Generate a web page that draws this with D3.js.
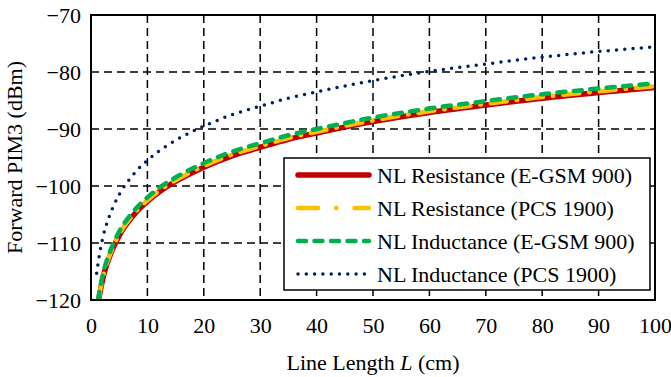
<!DOCTYPE html>
<html><head><meta charset="utf-8">
<script src="https://cdn.jsdelivr.net/npm/d3@7"></script>
<style>body{margin:0;background:#fff}svg{display:block}text{font-family:"Liberation Serif","Times New Roman",serif;fill:#000}</style>
</head><body>
<script>
const xTicks = [0,10,20,30,40,50,60,70,80,90,100];
const yTicks = [-120,-110,-100,-90,-80,-70];
const seriesNames = ["NL Resistance (E-GSM 900)","NL Resistance (PCS 1900)","NL Inductance (E-GSM 900)","NL Inductance (PCS 1900)"];
const lenRes = [1.35,1.5,2,2.5,3,4,5,6,7,8,10,12,15,20,25,30,35,40,50,60,70,80,90,100];
const resGSM = [-120,-119.2,-116.7,-114.7,-113.2,-110.7,-108.7,-107.1,-105.8,-104.6,-102.7,-101.1,-99.2,-96.7,-94.7,-93.2,-91.8,-90.7,-88.7,-87.1,-85.8,-84.6,-83.6,-82.7];
const resPCS = [-120,-119.0,-116.5,-114.5,-113.0,-110.5,-108.5,-106.9,-105.6,-104.4,-102.5,-100.9,-99.0,-96.5,-94.5,-93.0,-91.6,-90.5,-88.5,-86.9,-85.6,-84.4,-83.4,-82.5];
const lenInd = [1.26,1.5,2,2.5,3,4,5,6,7,8,10,12,15,20,25,30,35,40,50,60,70,80,90,100];
const indGSM = [-120,-118.5,-116.0,-114.0,-112.5,-110.0,-108.0,-106.4,-105.1,-103.9,-102.0,-100.4,-98.5,-96.0,-94.0,-92.5,-91.1,-90.0,-88.0,-86.4,-85.1,-83.9,-82.9,-82.0];
const lenIndPCS = [1,1.25,1.5,2,2.5,3,4,5,6,7,8,10,12,15,20,25,30,35,40,50,60,70,80,90,100];
const indPCS = [-115.3,-113.6,-112.0,-109.5,-107.5,-106.0,-103.5,-101.5,-99.9,-98.6,-97.4,-95.5,-93.9,-92.0,-89.5,-87.5,-86.0,-84.6,-83.5,-81.5,-79.9,-78.6,-77.4,-76.4,-75.6];

const W=671,H=377;
const m={l:91,r:655,t:15,b:300};
const svg=d3.select("body").append("svg").attr("width",W).attr("height",H);
const x=d3.scaleLinear().domain([0,100]).range([m.l,m.r]);
const y=d3.scaleLinear().domain([-120,-70]).range([m.b,m.t]);

// grid
const g=svg.append("g");
g.selectAll(".vx").data(xTicks.slice(1,-1)).join("line")
 .attr("x1",d=>x(d)).attr("x2",d=>x(d)).attr("y1",m.t).attr("y2",m.b)
 .attr("stroke","#000").attr("stroke-width",1.5).attr("stroke-dasharray","8,5");
g.selectAll(".hy").data(yTicks.slice(1,-1)).join("line")
 .attr("y1",d=>y(d)).attr("y2",d=>y(d)).attr("x1",m.l).attr("x2",m.r)
 .attr("stroke","#000").attr("stroke-width",1.5).attr("stroke-dasharray","8,5");

// axes labels
const xAxis=d3.axisBottom(x).tickValues(xTicks).tickSize(0).tickPadding(0);
const xa=svg.append("g").attr("transform",`translate(0,${m.b})`).call(xAxis);
xa.select(".domain").remove();
xa.selectAll("text").attr("y",33).attr("dy",null).style("font-size","22px").style("font-family","'Liberation Serif',serif");
const yAxis=d3.axisLeft(y).tickValues(yTicks).tickSize(0).tickPadding(0).tickFormat(d=>String(d).replace("-","\u2212"));
const ya=svg.append("g").attr("transform",`translate(${m.l-10},0)`).call(yAxis);
ya.select(".domain").remove();
ya.selectAll("text").attr("x",0).attr("dy","0.35em").style("font-size","22px").style("font-family","'Liberation Serif',serif");

svg.append("text").attr("x",(m.l+m.r)/2).attr("y",370).attr("text-anchor","middle").style("font-size","22px")
 .html('Line Length <tspan font-style="italic">L</tspan> (cm)');
svg.append("text").attr("transform",`translate(22,${(m.t+m.b)/2}) rotate(-90)`).attr("text-anchor","middle").style("font-size","22px")
 .text("Forward PIM3 (dBm)");

// clip
svg.append("clipPath").attr("id","clip").append("rect").attr("x",m.l).attr("y",m.t).attr("width",m.r-m.l).attr("height",m.b-m.t);

const styles=[
 {c:"#C00000",w:5.5,da:null,cap:"butt"},
 {c:"#FFC000",w:4.5,da:"16,10,0.5,10",cap:"round"},
 {c:"#00B050",w:4.5,da:"8,8.5",cap:"round"},
 {c:"#002060",w:3.5,da:"0,8.3",cap:"round"}
];
const data=[d3.zip(lenRes,resGSM),d3.zip(lenRes,resPCS),d3.zip(lenInd,indGSM),d3.zip(lenIndPCS,indPCS)];
const line=d3.line().x(d=>x(d[0])).y(d=>y(d[1])).curve(d3.curveMonotoneX);
const cg=svg.append("g").attr("clip-path","url(#clip)");
data.forEach((dd,i)=>{
 const s=styles[i];
 cg.append("path").attr("d",line(dd)).attr("fill","none").attr("stroke",s.c).attr("stroke-width",s.w)
  .attr("stroke-dasharray",s.da).attr("stroke-linecap",s.cap);
});

// frame
svg.append("rect").attr("x",m.l).attr("y",m.t).attr("width",m.r-m.l).attr("height",m.b-m.t)
 .attr("fill","none").attr("stroke","#000").attr("stroke-width",2);

// legend
const lg=svg.append("g");
lg.append("rect").attr("x",284).attr("y",158).attr("width",366).attr("height",132).attr("fill","#fff").attr("stroke","#000").attr("stroke-width",1.5);
seriesNames.forEach((n,i)=>{
 const yy=175+i*33, s=styles[i];
 lg.append("line").attr("x1",298).attr("x2",369).attr("y1",yy).attr("y2",yy).attr("stroke",s.c).attr("stroke-width",s.w)
  .attr("stroke-dasharray",i==1?"20,18,0.5,18":s.da).attr("stroke-linecap",i==0?"round":s.cap);
 lg.append("text").attr("x",377).attr("y",yy+7.5).style("font-size","22px").text(n);
});
</script>
</body></html>
